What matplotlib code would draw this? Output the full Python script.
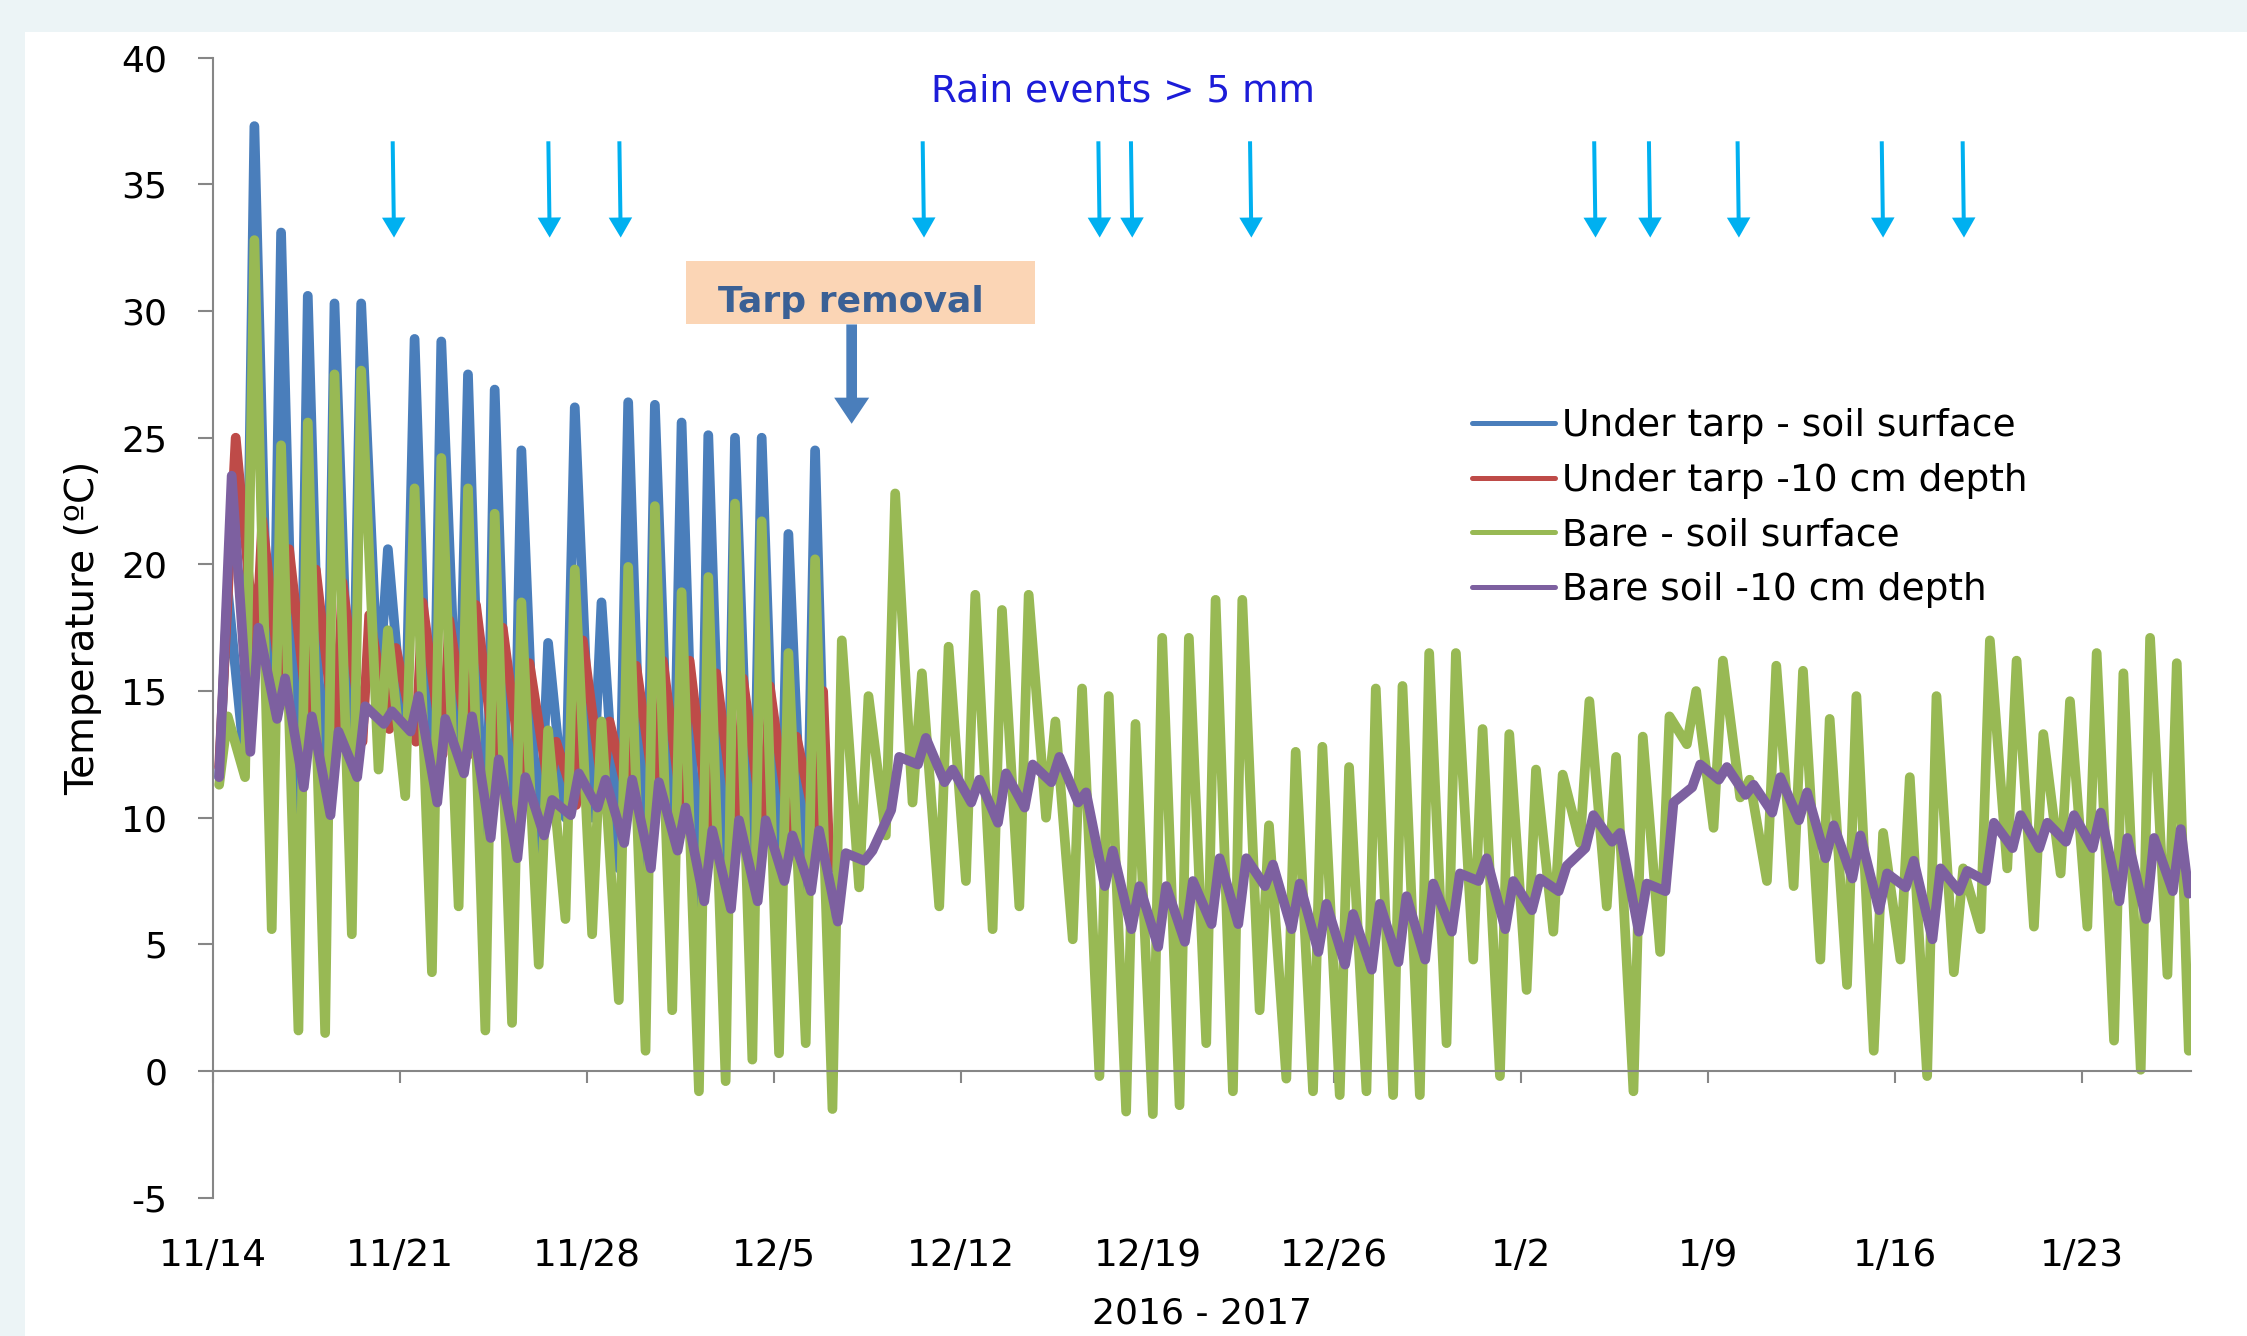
import numpy as np
import matplotlib
matplotlib.use('Agg')
import matplotlib.pyplot as plt
from matplotlib.patches import Rectangle

plt.rcParams['axes.unicode_minus'] = False

# days since 11/14/2016, daily lows and highs
tick_days = [0, 7, 14, 21, 28, 35, 42, 49, 56, 63, 70]
tick_labels = ['11/14', '11/21', '11/28', '12/5', '12/12', '12/19',
               '12/26', '1/2', '1/9', '1/16', '1/23']

# Under tarp - soil surface (until tarp removal)
tarp_surf_low = [11.6, 12.0, 10.0, 6.7, 6.5, 10.6, 14.7, 12.7, 8.0, 11.6, 5.7, 5.7,
                 7.5, 10.0, 10.0, 8.0, 5.4, 7.1, 3.9, 4.3, 6.0, 4.8, 5.4]
tarp_surf_high = [19.0, 37.3, 33.1, 30.6, 30.3, 30.3, 20.6, 28.9, 28.8, 27.5, 26.9, 24.5,
                  16.9, 26.2, 18.5, 26.4, 26.3, 25.6, 25.1, 25.0, 25.0, 21.2, 24.5]
tarp_surf_last = 3.2

# Under tarp -10 cm depth
tarp_deep_low = [12.0, 16.5, 14.5, 13.5, 13.0, 13.0, 13.5, 13.0, 12.5, 12.5, 12.0, 11.5,
                 11.0, 10.5, 11.0, 10.5, 10.5, 10.0, 9.5, 9.5, 9.5, 9.5, 9.5]
tarp_deep_high = [25.0, 21.75, 20.6, 19.8, 19.3, 18.0, 16.7, 18.5, 17.8, 18.4, 17.5, 16.1,
                  13.0, 17.0, 13.8, 16.0, 16.2, 16.2, 15.7, 15.5, 15.2, 13.2, 15.0]
tarp_deep_last = 8.0
tarp_end = 23.1

# Bare - soil surface
bare_surf_low = [11.3, 11.6, 5.6, 1.6, 1.5, 5.4, 11.9, 10.85, 3.9, 6.5,
                 1.6, 1.9, 4.2, 6.0, 5.4, 2.8, 0.8, 2.4, -0.8, -0.4,
                 0.45, 0.7, 1.1, -1.5, 7.25, 9.3, 10.6, 6.5, 7.5, 5.6,
                 6.5, 10.0, 5.2, -0.2, -1.6, -1.7, -1.35, 1.1, -0.8, 2.4,
                 -0.3, -0.8, -0.95, -0.8, -0.95, -0.95, 1.1, 4.4, -0.2, 3.2,
                 5.5, 9.0, 6.5, -0.8, 4.7, 12.9, 9.6, 10.8, 7.5, 7.3,
                 4.4, 3.4, 0.8, 4.4, -0.2, 3.9, 5.6, 8.0, 5.7, 7.8,
                 5.7, 1.2, 0.05, 3.8]
bare_surf_high = [14.0, 32.8, 24.7, 25.6, 27.5, 27.65, 17.4, 23.0, 24.2, 23.0,
                  22.0, 18.5, 13.45, 19.8, 13.8, 19.9, 22.3, 18.9, 19.5, 22.4,
                  21.7, 16.5, 20.2, 17.0, 14.8, 22.8, 15.7, 16.75, 18.8, 18.2,
                  18.8, 13.8, 15.1, 14.8, 13.7, 17.1, 17.1, 18.6, 18.6, 9.7,
                  12.6, 12.8, 12.0, 15.1, 15.2, 16.5, 16.5, 13.5, 13.3, 11.9,
                  11.7, 14.6, 12.4, 13.2, 14.0, 15.0, 16.2, 11.5, 16.0, 15.8,
                  13.9, 14.8, 9.4, 11.6, 14.8, 8.0, 17.0, 16.2, 13.3, 14.6,
                  16.5, 15.7, 17.1, 16.1]
bare_surf_last = 0.8

# Bare soil -10 cm depth
bare_deep_low = [11.6, 12.6, 13.9, 11.2, 10.1, 11.6, 13.7, 13.4, 10.6, 11.75,
                 9.2, 8.4, 9.3, 10.1, 10.4, 9.0, 8.0, 8.7, 6.7, 6.4,
                 6.7, 7.5, 7.1, 5.9, 8.3, 10.3, 12.1, 11.4, 10.6, 9.8,
                 10.4, 11.4, 10.6, 7.3, 5.6, 4.9, 5.1, 5.8, 5.8, 7.3,
                 5.6, 4.7, 4.2, 4.0, 4.3, 4.4, 5.5, 7.5, 5.6, 6.35,
                 7.1, 8.8, 9.05, 5.5, 7.1, 11.2, 11.5, 10.9, 10.2, 9.9,
                 8.4, 7.6, 6.35, 7.25, 5.2, 7.1, 7.5, 8.8, 8.8, 9.05,
                 8.8, 6.7, 6.0, 7.1]
bare_deep_high = [23.5, 17.5, 15.5, 14.0, 13.4, 14.4, 14.2, 14.8, 13.9, 14.0,
                  12.3, 11.6, 10.7, 11.75, 11.5, 11.5, 11.4, 10.4, 9.5, 9.9,
                  9.9, 9.3, 9.5, 8.6, 8.7, 12.4, 13.15, 11.9, 11.5, 11.75,
                  12.1, 12.4, 11.0, 8.7, 7.3, 7.3, 7.5, 8.4, 8.4, 8.15,
                  7.4, 6.6, 6.2, 6.6, 6.9, 7.4, 7.8, 8.4, 7.5, 7.6,
                  8.1, 10.1, 9.4, 7.4, 10.6, 12.1, 12.0, 11.3, 11.6, 11.0,
                  9.7, 9.3, 7.8, 8.3, 8.0, 7.9, 9.8, 10.1, 9.8, 10.1,
                  10.2, 9.2, 9.2, 9.55]
bare_deep_last = 7.0
bare_end = 74.0

rain_days = [6.73, 12.56, 15.22, 26.58, 33.16, 34.38, 38.84, 51.73, 53.78, 57.1, 62.5, 65.53]
tarp_removal_day = 23.92

START = 0.23


def daily_line(lows, highs, t_low, t_high, end_t, end_v):
    """Join daily lows/highs into one line, low first then high each day."""
    d = np.arange(len(lows))
    t = np.column_stack([d + t_low, d + t_high]).ravel()
    v = np.column_stack([lows, highs]).ravel()
    t[0] = START
    return np.append(t, end_t), np.append(v, end_v)


W, H = 2247, 1336
fig = plt.figure(figsize=(W / 100, H / 100), dpi=100)
fig.patch.set_facecolor('#ECF4F6')
fig.add_artist(Rectangle((25 / W, 0), 1, (H - 32) / H, transform=fig.transFigure,
                         facecolor='white', edgecolor='none', zorder=-5))

x0, x1 = 213, 2190.7
y_top, y_bot = 57.7, 1197.7
ax = fig.add_axes([x0 / W, 1 - y_bot / H, (x1 - x0) / W, (y_bot - y_top) / H])
ax.set_facecolor('white')

lw = 7
series = [
    (daily_line(tarp_surf_low, tarp_surf_high, 0.2, 0.55, tarp_end, tarp_surf_last),
     '#4A7EBB', 'Under tarp - soil surface'),
    (daily_line(tarp_deep_low, tarp_deep_high, 0.6, 0.85, tarp_end, tarp_deep_last),
     '#BE4B48', 'Under tarp -10 cm depth'),
    (daily_line(bare_surf_low, bare_surf_high, 0.2, 0.55, bare_end, bare_surf_last),
     '#98B954', 'Bare - soil surface'),
    (daily_line(bare_deep_low, bare_deep_high, 0.4, 0.7, bare_end, bare_deep_last),
     '#7D60A0', 'Bare soil -10 cm depth'),
]
for (t, v), color, label in series:
    ax.plot(t, v, color=color, lw=lw, label=label,
            solid_joinstyle='round', solid_capstyle='round')

ax.set_xlim(0, (x1 - x0) / 26.7)
ax.set_ylim(-5, 40)

gray = '#868686'
for side in ['top', 'right']:
    ax.spines[side].set_visible(False)
ax.spines['left'].set_color(gray)
ax.spines['left'].set_linewidth(1.5)
ax.spines['bottom'].set_position(('data', 0))
ax.spines['bottom'].set_color(gray)
ax.spines['bottom'].set_linewidth(1.5)

ax.set_yticks(range(-5, 45, 5))
ax.tick_params(axis='y', direction='out', length=10.8, width=1.5, color=gray,
               labelsize=26, pad=22)
ax.set_xticks(tick_days)
ax.tick_params(axis='x', direction='out', length=8.6, width=1.5, color=gray,
               labelbottom=False)

sec = ax.secondary_xaxis(0.0)
sec.spines['bottom'].set_visible(False)
sec.set_xticks(tick_days)
sec.set_xticklabels(tick_labels)
sec.tick_params(axis='x', length=0, labelsize=27, pad=29)
sec.set_xlabel('2016 - 2017', fontsize=26, labelpad=16)

ax.set_ylabel('Temperature (ºC)', fontsize=28)
ax.yaxis.set_label_coords((102 - x0) / (x1 - x0), 0.5)

# rain event arrows
for d in rain_days:
    ax.arrow(d, 36.7, 0.05, -3.8, width=0.15, head_width=0.88, head_length=0.79,
             length_includes_head=True, color='#00B0F0', lw=0, zorder=5)
ax.text(34.08, 38.28, 'Rain events > 5 mm', ha='center', va='baseline',
        color='#1C1CD8', fontsize=27)

# tarp removal label and arrow
ax.add_patch(Rectangle((17.7, 29.47), 13.1, 2.49, facecolor='#FBD5B5',
                       edgecolor='none', zorder=5))
ax.text(23.9, 29.95, 'Tarp removal', ha='center', va='baseline', color='#3A6095',
        fontsize=26, fontweight='bold', zorder=6)
ax.arrow(tarp_removal_day, 29.47, 0, -3.92, width=0.40, head_width=1.31,
         head_length=1.03, length_includes_head=True, color='#4A7EBB', lw=0, zorder=6)

leg = ax.legend(loc='upper left', bbox_to_anchor=(1472 / W, 1 - 408 / H),
                bbox_transform=fig.transFigure, frameon=False, fontsize=27,
                handlelength=2.2, handletextpad=0.2, labelspacing=0.5,
                borderpad=0, borderaxespad=0)
for line in leg.get_lines():
    line.set_linewidth(3.6)

fig.savefig('out.png', dpi=100, facecolor=fig.get_facecolor())
